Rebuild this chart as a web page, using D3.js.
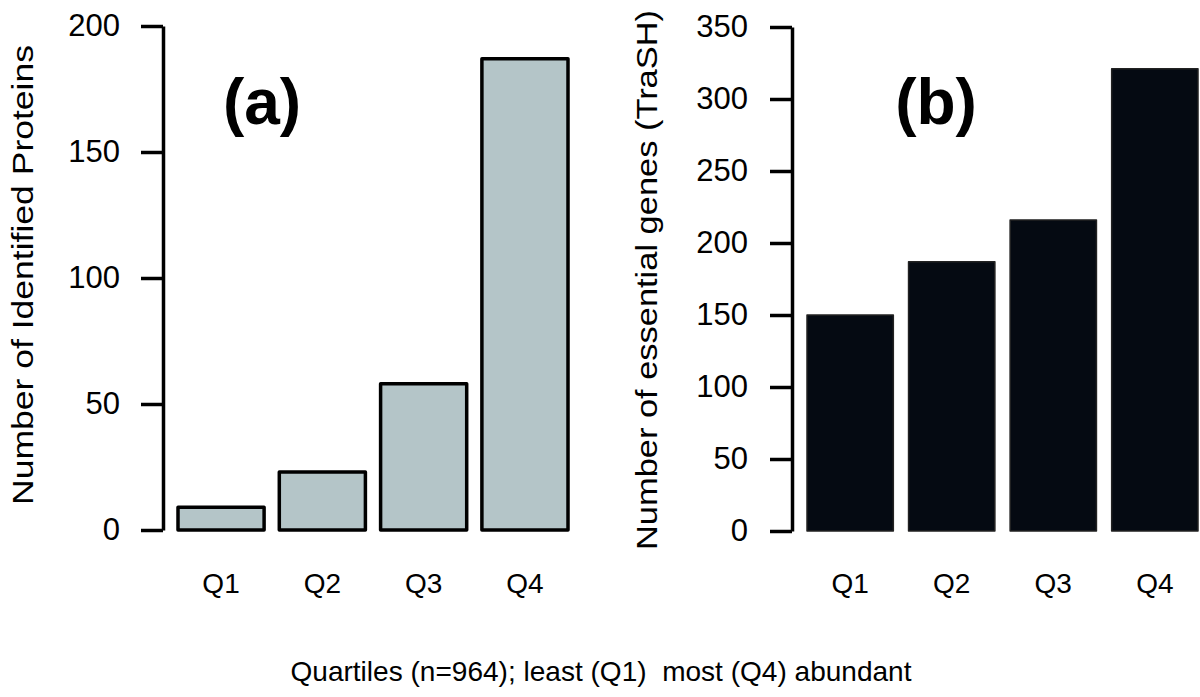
<!DOCTYPE html>
<html>
<head>
<meta charset="utf-8">
<script src="https://cdn.jsdelivr.net/npm/d3@7"></script>
<style>
  body { margin: 0; background: #fff; }
  text { font-family: "Liberation Sans", Arial, sans-serif; fill: #000; }
</style>
</head>
<body>
<div id="chart"></div>
<script>
var width = 1200
var height = 697

const quartiles = ["Q1", "Q2", "Q3", "Q4"];
const identifiedProteins = [9, 23, 58, 187];
const essentialGenes = [150, 187, 216, 321];
const ticksA = [0, 50, 100, 150, 200];
const ticksB = [0, 50, 100, 150, 200, 250, 300, 350];

var svg = d3.select("#chart").append("svg")
    .attr("width", width)
    .attr("height", height)

const drawPanel = (opt) => {
    const xScale = d3.scaleBand()
        .domain(quartiles)
        .range(opt.xRange)
        .paddingInner(0.15)
        .paddingOuter(0);

    const yScale = d3.scaleLinear()
        .domain([0, opt.max])
        .range(opt.yRange);

    const yAxis = d3.axisLeft(yScale)
        .tickValues(opt.ticks)
        .tickSize(22)
        .tickSizeOuter(0)
        .tickPadding(opt.pad);

    const yAxisG = svg.append("g")
        .attr("transform", `translate(${opt.axisX}, 0)`)
        .call(yAxis);
    yAxisG.attr("font-family", null).attr("font-size", null);
    yAxisG.select(".domain").attr("stroke-width", 3.5).attr("stroke", "#000");
    yAxisG.selectAll(".tick line").attr("stroke-width", 3.5).attr("stroke", "#000");
    yAxisG.selectAll(".tick text")
        .style("font-size", "31px")
        .attr("fill", "#000");

    svg.append("g").selectAll("rect")
        .data(opt.values)
        .enter().append("rect")
        .attr("x", (d, i) => xScale(quartiles[i]))
        .attr("y", d => yScale(d))
        .attr("width", xScale.bandwidth())
        .attr("height", d => yScale(0) - yScale(d))
        .attr("fill", opt.fill)
        .attr("stroke", opt.stroke)
        .attr("stroke-width", opt.strokeWidth)
        .attr("stroke-linejoin", "round");

    svg.append("g").selectAll("text")
        .data(quartiles)
        .enter().append("text")
        .attr("x", d => xScale(d) + xScale.bandwidth() / 2)
        .attr("y", 593)
        .attr("text-anchor", "middle")
        .style("font-size", "28px")
        .text(d => d);

    svg.append("text")
        .attr("transform", `translate(${opt.labelX}, ${opt.labelY}) rotate(-90)`)
        .attr("text-anchor", "middle")
        .attr("textLength", opt.labelLen)
        .attr("lengthAdjust", "spacingAndGlyphs")
        .style("font-size", "30px")
        .text(opt.yLabel);

    svg.append("text")
        .attr("x", opt.tagX)
        .attr("y", 124)
        .attr("text-anchor", "middle")
        .style("font-size", "64px")
        .style("font-weight", "bold")
        .text(opt.tag);
}

drawPanel({
    values: identifiedProteins, max: 200, ticks: ticksA,
    xRange: [178, 568], yRange: [530, 26], axisX: 163, pad: 21,
    fill: "#b4c5c8", stroke: "#000", strokeWidth: 3.5,
    yLabel: "Number of Identified Proteins", labelX: 33, labelY: 275, labelLen: 460,
    tag: "(a)", tagX: 262
})

drawPanel({
    values: essentialGenes, max: 350, ticks: ticksB,
    xRange: [807, 1198], yRange: [531, 27], axisX: 792, pad: 22,
    fill: "#050a12", stroke: "#222", strokeWidth: 1.5,
    yLabel: "Number of essential genes (TraSH)", labelX: 657, labelY: 280, labelLen: 540,
    tag: "(b)", tagX: 936
})

svg.append("text")
    .attr("x", 601)
    .attr("y", 681)
    .attr("text-anchor", "middle")
    .attr("xml:space", "preserve")
    .style("white-space", "pre")
    .attr("textLength", 621)
    .attr("lengthAdjust", "spacingAndGlyphs")
    .style("font-size", "28px")
    .text("Quartiles (n=964); least (Q1)  most (Q4) abundant");
</script>
</body>
</html>
